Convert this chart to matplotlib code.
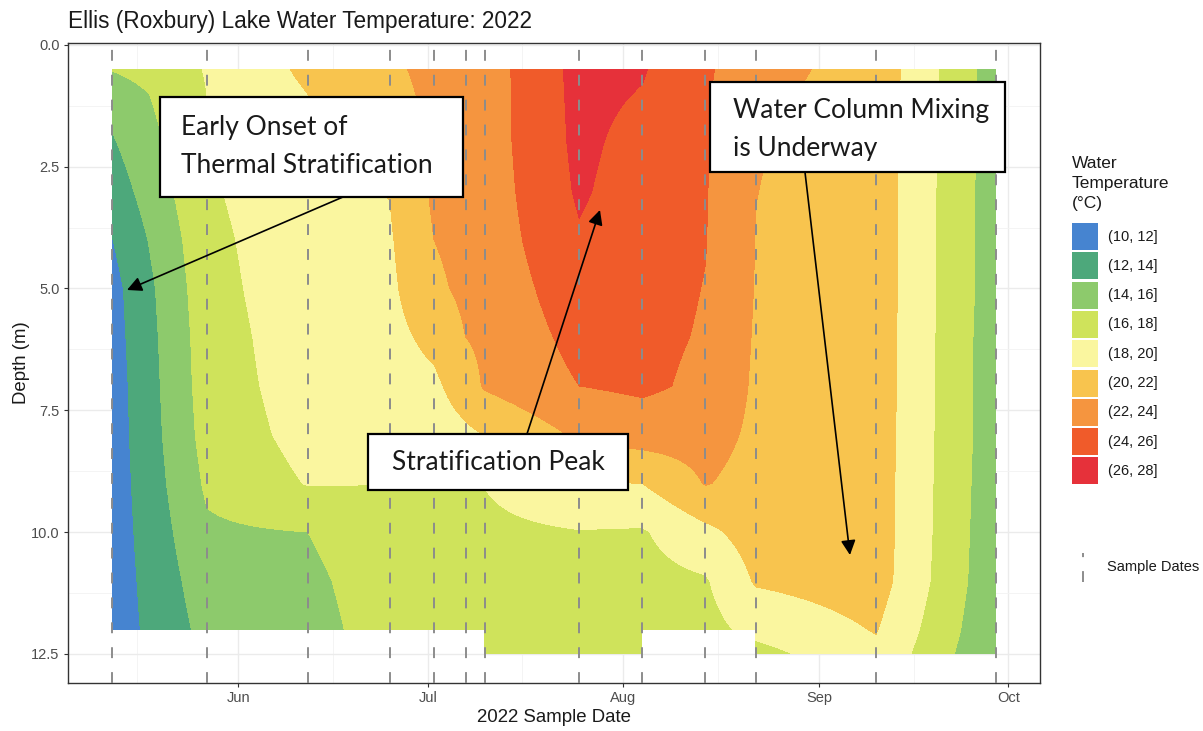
import numpy as np
import pandas as pd
import matplotlib
matplotlib.use("Agg")
import matplotlib.pyplot as plt
import matplotlib.dates as mdates
from matplotlib.patches import Rectangle

plt.rcParams['font.family'] = ['Liberation Sans', 'DejaVu Sans']

# sampling trips (dashed lines) and the deepest reading on each trip
sample_dates = pd.to_datetime(["2022-05-12", "2022-05-27", "2022-06-12", "2022-06-25",
                               "2022-07-02", "2022-07-07", "2022-07-10", "2022-07-25",
                               "2022-08-04", "2022-08-14", "2022-08-22", "2022-09-10",
                               "2022-09-29"])
max_depth = [12.0, 12.0, 12.0, 12.0, 12.0, 12.0, 12.5, 12.5, 12.5, 12.0, 12.5, 12.5, 12.5]
depths = [0.5, 1, 2, 3, 4, 5, 6, 7, 8, 9, 10, 11, 12, 12.5]

# temperature profiles (deg C) at the depths above, estimated from the plot
temp_may12 = [16.1, 14.7, 13.8, 12.9, 11.95, 11.3, 11.15, 11.0, 10.95, 10.9, 10.9, 10.9, 10.9, 10.9]
temp_may27 = [18.1, 18.0, 17.9, 17.7, 17.4, 17.2, 17.0, 16.9, 16.7, 16.3, 15.7, 15.1, 14.6, 14.6]
temp_jun12 = [20.4, 20.0, 19.8, 19.6, 19.5, 19.4, 19.2, 19.0, 18.7, 18.1, 16.0, 15.5, 15.2, 15.2]
temp_jun25 = [21.6, 21.3, 20.6, 20.05, 19.8, 19.6, 19.4, 19.2, 18.8, 18.0, 17.5, 17.2, 17.0, 17.0]
temp_jul02 = [22.6, 22.5, 22.4, 22.3, 22.0, 21.6, 20.5, 19.6, 19.0, 18.05, 17.3, 17.0, 16.8, 16.8]
temp_jul07 = [22.9, 22.9, 22.8, 22.7, 22.6, 22.4, 22.0, 21.0, 19.6, 18.1, 17.4, 17.1, 16.9, 16.9]
temp_jul10 = [23.0, 23.0, 23.0, 22.9, 22.8, 22.6, 22.4, 22.2, 20.0, 18.05, 17.5, 17.2, 17.0, 16.9]
temp_jul25 = [26.6, 26.55, 26.45, 26.25, 25.8, 25.2, 24.6, 24.0, 22.3, 19.9, 17.9, 17.3, 17.0, 16.9]
temp_aug04 = [26.15, 25.9, 25.3, 25.0, 24.8, 24.6, 24.45, 24.35, 22.9, 20.0, 17.8, 17.3, 17.1, 17.0]
temp_aug14 = [24.3, 24.2, 24.15, 24.1, 24.05, 23.95, 23.85, 23.6, 22.8, 22.1, 19.5, 17.8, 17.3, 17.3]
temp_aug22 = [22.6, 22.4, 22.1, 22.02, 21.95, 21.9, 21.8, 21.7, 21.6, 21.3, 20.9, 20.2, 18.6, 17.3]
temp_sep10 = [21.3, 21.2, 21.2, 21.1, 21.1, 21.1, 21.1, 21.1, 21.0, 21.0, 21.0, 20.9, 20.1, 19.6]
temp_sep29 = [15.0, 15.0, 15.0, 14.9, 14.9, 14.9, 14.8, 14.8, 14.8, 14.7, 14.6, 14.5, 14.3, 14.1]

bin_edges = [10, 12, 14, 16, 18, 20, 22, 24, 26, 28]
bin_labels = ["(10, 12]", "(12, 14]", "(14, 16]", "(16, 18]", "(18, 20]",
              "(20, 22]", "(22, 24]", "(24, 26]", "(26, 28]"]
bin_colors = ["#4684D0", "#4DA87B", "#8DCA6C", "#CFE35B", "#FAF69F",
              "#F8C44E", "#F5953F", "#F05B2A", "#E6313A"]

profiles = np.array([temp_may12, temp_may27, temp_jun12, temp_jun25, temp_jul02,
                     temp_jul07, temp_jul10, temp_jul25, temp_aug04, temp_aug14,
                     temp_aug22, temp_sep10, temp_sep29])

# linear interpolation: first down each profile, then between trips
t = mdates.date2num(sample_dates)
zz = np.linspace(depths[0], depths[-1], 601)
tt = np.linspace(t[0], t[-1], 1121)
by_depth = np.array([np.interp(zz, depths, p) for p in profiles])
temp = np.array([np.interp(tt, t, by_depth[:, k]) for k in range(len(zz))])

# only fill down to the depth both neighbouring trips reached
md = np.array(max_depth)
seg = np.clip(np.searchsorted(t, tt, side='right') - 1, 0, len(t) - 2)
bottom = np.minimum(md[seg], md[seg + 1])
temp = np.ma.masked_where(zz[:, None] > bottom[None, :] + 1e-6, temp)

W, H = 1203, 731
fig = plt.figure(figsize=(W / 100, H / 100), dpi=100)
ax = fig.add_axes([68 / W, 1 - 683 / H, 972 / W, 640 / H])

ax.contourf(tt, zz, temp, levels=bin_edges, colors=bin_colors, zorder=1)
for d in t:
    ax.axvline(d, color='#8C8C8C', lw=1.4, ls=(0, (5.6, 7.2)), zorder=3)

span = t[-1] - t[0]
ax.set_xlim(t[0] - 0.05 * span, t[-1] + 0.05 * span)
ax.set_ylim(13.1, -0.04)

ax.xaxis.set_major_locator(mdates.MonthLocator(bymonth=[6, 7, 8, 9, 10]))
ax.xaxis.set_major_formatter(mdates.DateFormatter('%b'))
ax.xaxis.set_minor_locator(mdates.DayLocator(bymonthday=16))
ax.set_yticks([0, 2.5, 5, 7.5, 10, 12.5])
ax.set_yticklabels(["0.0", "2.5", "5.0", "7.5", "10.0", "12.5"])
ax.set_yticks([1.25, 3.75, 6.25, 8.75, 11.25], minor=True)

ax.set_axisbelow(True)
ax.grid(which='major', color='#EBEBEB', lw=1.0)
ax.grid(which='minor', color='#F3F3F3', lw=0.6)
ax.tick_params(which='major', length=3, width=0.8, color='#333333',
               labelsize=10.5, labelcolor='#4D4D4D', pad=3)
ax.tick_params(which='minor', length=0)
for sp in ax.spines.values():
    sp.set_color('#333333')
    sp.set_linewidth(1.0)

ax.set_xlabel("2022 Sample Date", fontsize=13.4, color='#1A1A1A', labelpad=3)
ax.set_ylabel("Depth (m)", fontsize=13.4, color='#1A1A1A', labelpad=1)
ax.set_title("Ellis (Roxbury) Lake Water Temperature: 2022", loc='left',
             fontsize=16.3, color='#1A1A1A', pad=11)

# callouts
box_font = dict(family=['Lato', 'DejaVu Sans'], fontsize=19, color='#1A1A1A')
arrow = dict(arrowstyle='-|>', color='black', lw=1.2, mutation_scale=22,
             shrinkA=0, shrinkB=0)

ax.add_patch(Rectangle((0.0947, 0.759), 0.3117, 0.157, transform=ax.transAxes,
                       fc='white', ec='black', lw=1.6, zorder=5))
ax.text(0.116, 0.838, "Early Onset of\nThermal Stratification", transform=ax.transAxes,
        ha='left', va='center', linespacing=1.65, zorder=6, **box_font)
ax.annotate('', xy=(0.0607, 0.6141), xytext=(0.2829, 0.7594), xycoords='axes fraction',
            arrowprops=arrow, zorder=6)

ax.add_patch(Rectangle((0.3086, 0.3016), 0.2675, 0.0875, transform=ax.transAxes,
                       fc='white', ec='black', lw=1.6, zorder=5))
ax.text(0.4424, 0.3453, "Stratification Peak", transform=ax.transAxes,
        ha='center', va='center', zorder=6, **box_font)
ax.annotate('', xy=(0.5473, 0.7391), xytext=(0.4722, 0.3891), xycoords='axes fraction',
            arrowprops=arrow, zorder=6)

ax.add_patch(Rectangle((0.6605, 0.7984), 0.3035, 0.1407, transform=ax.transAxes,
                       fc='white', ec='black', lw=1.6, zorder=5))
ax.text(0.6842, 0.8641, "Water Column Mixing\nis Underway", transform=ax.transAxes,
        ha='left', va='center', linespacing=1.65, zorder=6, **box_font)
ax.annotate('', xy=(0.8045, 0.2), xytext=(0.7582, 0.7984), xycoords='axes fraction',
            arrowprops=arrow, zorder=6)

# legend drawn in figure pixels
lax = fig.add_axes([0, 0, 1, 1], facecolor='none')
lax.set_xlim(0, W)
lax.set_ylim(H, 0)
lax.axis('off')
lax.text(1072, 156, "Water\nTemperature\n(°C)", fontsize=12.5, va='top', ha='left',
         linespacing=1.42, color='#1A1A1A')
for i, (lab, col) in enumerate(zip(bin_labels, bin_colors)):
    y0 = 223 + i * 29.3
    lax.add_patch(Rectangle((1072, y0), 26, 27, fc=col, ec='none'))
    lax.text(1108, y0 + 13.5, lab, fontsize=10.5, va='center', color='#1A1A1A')
lax.plot([1083, 1083], [582, 553], color='#8C8C8C', lw=1.4, ls=(0, (5.6, 7.2)))
lax.text(1107, 567, "Sample Dates", fontsize=10.5, va='center', color='#1A1A1A')

fig.savefig("out.png", dpi=100)
